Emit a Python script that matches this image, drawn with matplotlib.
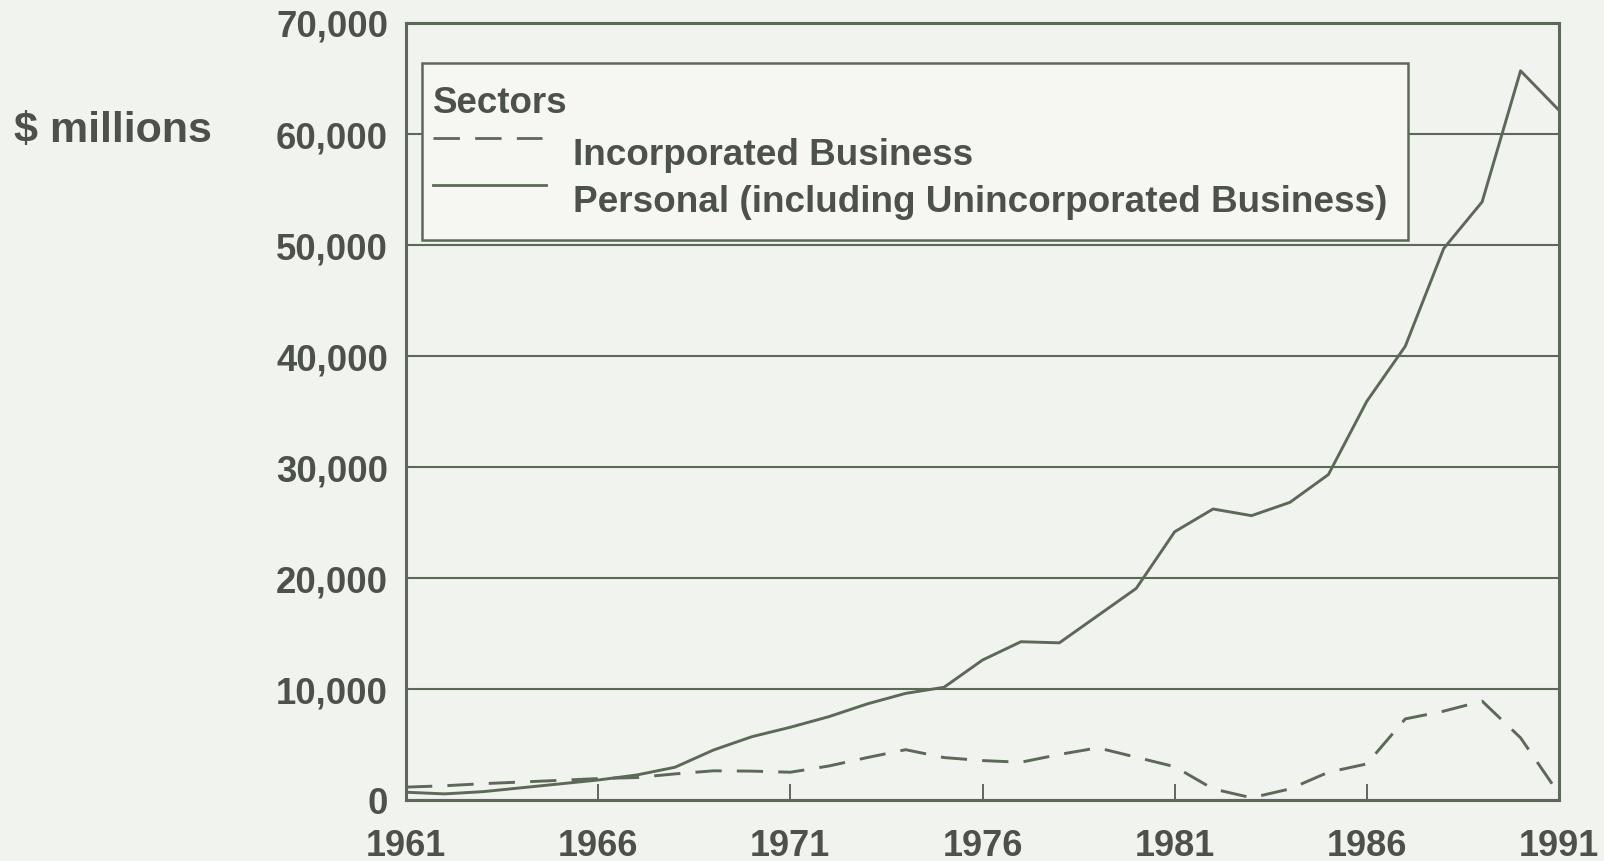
import matplotlib
matplotlib.use("Agg")
import matplotlib.pyplot as plt
from matplotlib.patches import Rectangle

years = list(range(1961, 1992))
personal = [700, 550, 750, 1100, 1450, 1800, 2250, 2950, 4500, 5700,
            6550, 7500, 8650, 9600, 10150, 12600, 14250, 14150, 16600, 19050,
            24150, 26200, 25600, 26800, 29300, 35900, 40850, 49650, 53850, 65650,
            62100]
incorporated = [1160, 1280, 1470, 1620, 1770, 1930, 2020, 2350, 2630, 2600,
                2500, 3060, 3820, 4530, 3820, 3550, 3400, 4100, 4700, 3850,
                3000, 1000, 200, 1000, 2500, 3250, 7300, 8000, 8900, 5600,
                550]
xticks = [1961, 1966, 1971, 1976, 1981, 1986, 1991]
yticks = [0, 10000, 20000, 30000, 40000, 50000, 60000, 70000]
legend_title = "Sectors"
series_names = ["Incorporated Business", "Personal (including Unincorporated Business)"]

LINE = "#5d6958"
TEXT = "#4c5249"
BG = "#f1f3ee"
BOXBG = "#f6f7f3"

W, H = 1604, 862
fig = plt.figure(figsize=(W / 100, H / 100), dpi=100, facecolor=BG)
L, R, T, B = 406, 1559, 23.5, 801
ax = fig.add_axes([L / W, 1 - B / H, (R - L) / W, (B - T) / H])
ax.set_facecolor(BG)

font = dict(family="Liberation Sans", weight="bold", color=TEXT)

ax.plot(years, incorporated, color=LINE, lw=2.1, dashes=(9.0, 5.2), zorder=4)
ax.plot(years, personal, color=LINE, lw=2.1, zorder=4)

ax.set_xlim(1961, 1991)
ax.set_ylim(0, 70000)
ax.set_xticks(xticks)
ax.set_xticklabels([str(x) for x in xticks], fontsize=26, **font)
ax.set_yticks(yticks)
ax.set_yticklabels([f"{v:,}" for v in yticks], fontsize=26.3, **font)
ax.tick_params(axis="x", direction="in", length=11.5, width=1.4, color=LINE, pad=20)
ax.tick_params(axis="y", length=0, pad=13)
ax.grid(axis="y", color=LINE, lw=1.5, zorder=1)
ax.set_axisbelow(True)
for s in ax.spines.values():
    s.set_color(LINE)
    s.set_linewidth(2.2)
    s.set_zorder(5)

# legend box
def axx(px):
    return (px - L) / (R - L)

def axy(py):
    return (B - py) / (B - T)

box = Rectangle((axx(422), axy(241)), axx(1408) - axx(422), axy(64) - axy(241),
                transform=ax.transAxes, facecolor=BOXBG, edgecolor=LINE, lw=1.8,
                zorder=3)
ax.add_patch(box)
ax.plot([axx(433), axx(542)], [axy(139), axy(139)], transform=ax.transAxes,
        color=LINE, lw=2.0, dashes=(9.5, 5.5), zorder=4, clip_on=False)
ax.plot([axx(433), axx(546)], [axy(186), axy(186)], transform=ax.transAxes,
        color=LINE, lw=2.0, zorder=4, clip_on=False)
ax.text(axx(433), axy(113), legend_title, transform=ax.transAxes, fontsize=26.5,
        va="baseline", ha="left", zorder=4, **font)
ax.text(axx(573), axy(165), series_names[0], transform=ax.transAxes, fontsize=26.6,
        va="baseline", ha="left", zorder=4, **font)
ax.text(axx(573), axy(212), series_names[1], transform=ax.transAxes, fontsize=26.6,
        va="baseline", ha="left", zorder=4, **font)

fig.text(14 / W, 1 - 142 / H, "$ millions", fontsize=31, va="baseline", ha="left", **font)

fig.savefig("out.png", dpi=100, facecolor=BG)
